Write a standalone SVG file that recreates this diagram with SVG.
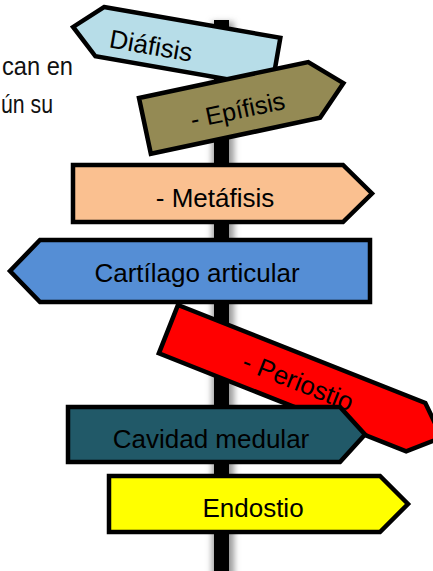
<svg xmlns="http://www.w3.org/2000/svg" width="433" height="571" viewBox="0 0 433 571">
<defs>
<style>
.sign{stroke:#000;stroke-width:4.5;stroke-linejoin:miter}
.lbl{font-family:"Liberation Sans",Arial,sans-serif;font-size:26px;fill:#000;text-anchor:middle}
.side{font-family:"Liberation Sans",Arial,sans-serif;font-size:25px;fill:#111;text-anchor:start}
</style>
<filter id="blur" x="-1" y="-0.1" width="3" height="1.2"><feGaussianBlur stdDeviation="3"/></filter>
</defs>
<rect width="433" height="571" fill="#fff"/>
<g id="side-text">
<text class="side" x="2" y="75" textLength="71" lengthAdjust="spacingAndGlyphs">can en</text>
<text class="side" x="1" y="113" textLength="52" lengthAdjust="spacingAndGlyphs">ún su</text>
</g>
<g id="pole">
<rect x="212" y="22" width="22" height="560" fill="#9a9a9a" filter="url(#blur)"/>
<rect x="214" y="20" width="15" height="560" fill="#000"/>
</g>
<g id="connectors"></g>
<g id="diafisis" transform="translate(104,7) rotate(9.9)">
<polygon class="sign" points="0,0 179,0 179,50 0,50 -27,25" fill="#b7dde8"/>
<text class="lbl" x="53" y="39">Diáfisis</text>
</g>
<g id="epifisis" transform="translate(139,98) rotate(-12)">
<polygon class="sign" points="0,0 173,0 203,28 173,57 0,57" fill="#948a54"/>
<text class="lbl" x="94" y="41" style="font-size:25px">- Epífisis</text>
</g>
<g id="metafisis">
<polygon class="sign" points="73,165 343,165 372,193.5 343,222 73,222" fill="#fac090"/>
<text class="lbl" x="215" y="207">- Metáfisis</text>
</g>
<g id="cartilago">
<polygon class="sign" points="40,240 370,240 370,302 40,302 10,271" fill="#558ed5"/>
<text class="lbl" x="197" y="282">Cartílago articular</text>
</g>
<g id="periostio" transform="translate(178,305) rotate(21.6)">
<polygon class="sign" points="0,0 266,0 294,26 266,52 0,52" fill="#ff0000"/>
<text class="lbl" x="140" y="36">- Periostio</text>
</g>
<g id="cavidad">
<polygon class="sign" points="68,407 340,407 365,434.5 340,462 68,462" fill="#215968"/>
<text class="lbl" x="211" y="448">Cavidad medular</text>
</g>
<g id="endostio">
<polygon class="sign" points="109,476 380,476 408,504 380,532 109,532" fill="#ffff00"/>
<text class="lbl" x="253" y="517">Endostio</text>
</g>
</svg>
